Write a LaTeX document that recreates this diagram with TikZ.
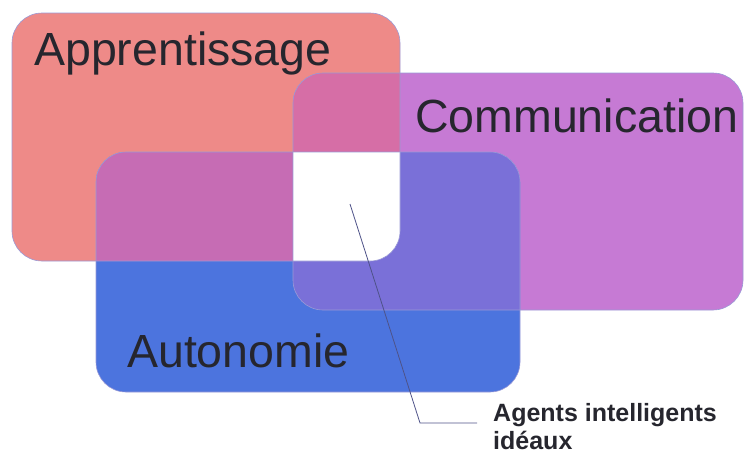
\documentclass[tikz,border=0pt]{standalone}
\usepackage{fontspec}
\setmainfont{Liberation Sans}
\definecolor{colA}{HTML}{EE8A88}
\definecolor{colC}{HTML}{C67AD4}
\definecolor{colB}{HTML}{4C74DE}
\definecolor{colAC}{HTML}{D66EA6}
\definecolor{colAB}{HTML}{C66CB4}
\definecolor{colBC}{HTML}{7A70D8}
\definecolor{txt}{HTML}{26262E}
\definecolor{edge}{HTML}{9A9AD6}
\definecolor{leader}{HTML}{4E5288}
\begin{document}
\begin{tikzpicture}[x=1pt,y=-1pt,
  rc/.style={rounded corners=30pt},
  bigtxt/.style={anchor=base west,inner sep=0pt,text=txt,font=\fontsize{46.5}{55}\selectfont},
  smalltxt/.style={anchor=base west,inner sep=0pt,text=txt,font=\bfseries\fontsize{25}{30}\selectfont},
  outline/.style={draw=edge,line width=0.6pt,rc}]
\useasboundingbox (0,0) rectangle (746,456);
\def\rA{(12,13) rectangle (400,261)}
\def\rC{(293,73) rectangle (743,310)}
\def\rB{(96,152) rectangle (520,392)}
% single regions
\fill[colA,rc] \rA;
\fill[colC,rc] \rC;
\fill[colB,rc] \rB;
% pairwise overlaps
\begin{scope}\clip[rc] \rA; \fill[colAC,rc] \rC; \end{scope}
\begin{scope}\clip[rc] \rA; \fill[colAB,rc] \rB; \end{scope}
\begin{scope}\clip[rc] \rB; \fill[colBC,rc] \rC; \end{scope}
% triple overlap
\begin{scope}\clip[rc] \rA; \clip[rc] \rB; \fill[white,rc] \rC; \end{scope}
% outlines
\draw[outline] \rA;
\draw[outline] \rC;
\draw[outline] \rB;
% labels
\node[bigtxt] (appr) at (34,65) {Apprentissage};
\node[bigtxt] (comm) at (415,132) {Communication};
\node[bigtxt] (auto) at (127,367) {Autonomie};
\node[smalltxt] (agents) at (493,421) {Agents intelligents};
\node[smalltxt] (ideaux) at (493,449) {idéaux};
% leader
\coordinate (p0) at (350,204);
\coordinate (p1) at (420,423);
\coordinate (p2) at (477,423);
\draw[leader,line width=0.8pt] (p0) -- (p1) -- (p2);
\end{tikzpicture}
\end{document}
